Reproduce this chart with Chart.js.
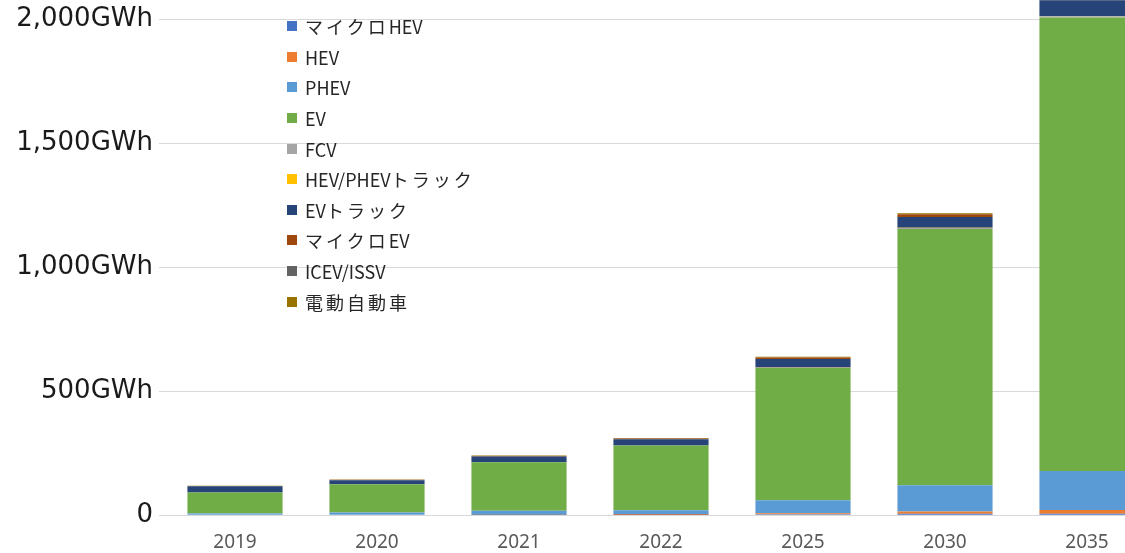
<!DOCTYPE html>
<html>
<head>
<meta charset="utf-8">
<script src="https://cdn.jsdelivr.net/npm/chart.js@4/dist/chart.umd.min.js"></script>
<style>
  html, body { margin: 0; padding: 0; background: #fff; width: 1125px; height: 553px; overflow: hidden; }
  #wrap { position: relative; width: 1158px; height: 570px; }
  #c { display: block; }
  #legend { position: absolute; left: 287px; top: 11px; font-family: "Noto Sans CJK JP", "Noto Sans", sans-serif; font-size: 18px; color: #262626; }
  .item { height: 30.6px; display: flex; align-items: center; white-space: nowrap; }
  .sw { width: 10px; height: 10px; margin-right: 8px; flex: none; }
  .cjk { letter-spacing: 3px; }
</style>
</head>
<body>
<div id="wrap">
  <canvas id="c" width="1158" height="570"></canvas>
  <div id="legend"></div>
</div>
<script>
const categories = ['2019', '2020', '2021', '2022', '2025', '2030', '2035'];
const seriesNames = ['マイクロHEV', 'HEV', 'PHEV', 'EV', 'FCV', 'HEV/PHEVトラック', 'EVトラック', 'マイクロEV', 'ICEV/ISSV', '電動自動車'];
const microHEV   = [0, 0, 0, 1, 4, 6, 6];
const hev        = [0, 0, 1, 4, 4, 9, 15];
const phev       = [7, 11, 17, 15, 52, 106, 157];
const ev         = [85, 114, 195, 261, 533, 1033, 1828];
const fcv        = [0, 0, 0, 0, 1, 4, 5];
const hevTruck   = [0, 0, 0, 0, 1, 1, 2];
const evTruck    = [25, 16, 24, 25, 35, 43, 63];
const microEV    = [1, 2, 2, 3, 6, 11, 15];
const icev       = [0, 0, 0, 0, 0, 0, 0];
const eVehicle   = [1, 1, 2, 2, 3, 4, 5];
const yTicks = [0, 500, 1000, 1500, 2000];
const yMax = 2077;

const seriesValues = [microHEV, hev, phev, ev, fcv, hevTruck, evTruck, microEV, icev, eVehicle];
const colors = ['#4472C4', '#ED7D31', '#5B9BD5', '#70AD47', '#A5A5A5', '#FFC000', '#264478', '#9E480E', '#636363', '#997300'];

const datasets = seriesNames.map((name, i) => ({
  label: name,
  data: seriesValues[i],
  backgroundColor: colors[i],
  borderWidth: 0,
  categoryPercentage: 1.0,
  barPercentage: 0.67
}));

// HTML legend (real text)
const lg = document.getElementById('legend');
seriesNames.forEach((name, i) => {
  const d = document.createElement('div');
  d.className = 'item';
  const s = document.createElement('span');
  s.className = 'sw';
  s.style.background = colors[i];
  d.appendChild(s);
  const t = document.createElement('span');
  name.match(/[\u3000-\u9fff]+|[^\u3000-\u9fff]+/g).forEach(run => {
    const r = document.createElement('span');
    if (/[\u3000-\u9fff]/.test(run)) r.className = 'cjk';
    r.textContent = run;
    t.appendChild(r);
  });
  d.appendChild(t);
  lg.appendChild(d);
});

new Chart(document.getElementById('c'), {
  type: 'bar',
  data: { labels: categories, datasets },
  options: {
    responsive: false,
    animation: false,
    layout: { padding: { top: 0, right: 0, bottom: 0, left: 0 } },
    plugins: { legend: { display: false }, tooltip: { enabled: false } },
    scales: {
      x: {
        stacked: true,
        grid: { display: false, drawTicks: false },
        border: { display: true, color: '#d9d9d9' },
        ticks: { color: '#595959', padding: 16, font: { family: 'Noto Sans', size: 19 } },
        afterFit: (s) => { s.paddingLeft = 0; s.paddingRight = 0; }
      },
      y: {
        stacked: true,
        min: 0,
        max: yMax,
        grid: { color: '#d9d9d9', lineWidth: 1, drawTicks: true, tickLength: 5 },
        border: { display: false },
        afterBuildTicks: (s) => { s.ticks = yTicks.map(v => ({ value: v })); },
        ticks: {
          color: '#1a1a1a',
          padding: 6,
          font: { family: 'DejaVu Sans', size: 26 },
          callback: (v) => v === 0 ? '0' : v.toLocaleString('en-US') + 'GWh'
        },
        afterFit: (s) => { s.width = 164; s.paddingTop = 0; s.paddingBottom = 0; }
      }
    }
  }
});
</script>
</body>
</html>
